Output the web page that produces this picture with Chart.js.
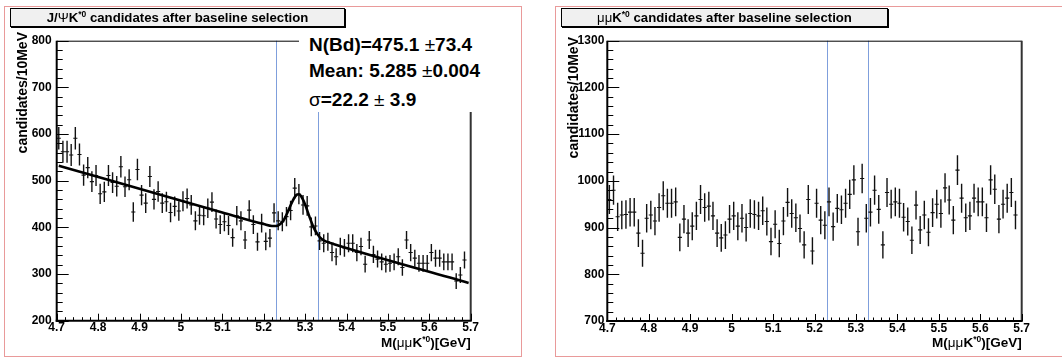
<!DOCTYPE html>
<html><head><meta charset="utf-8">
<script src="https://cdn.jsdelivr.net/npm/chart.js@4.4.1/dist/chart.umd.min.js"></script>
<style>
html,body{margin:0;padding:0;background:#fff;}
body{width:1062px;height:358px;position:relative;overflow:hidden;font-family:'Liberation Sans',Arial,Helvetica,sans-serif;color:#000;}
canvas{position:absolute;left:0;top:0;z-index:1;}
.pad{position:absolute;box-sizing:border-box;border:1px solid #e99a9a;z-index:0;}
.tbox{position:absolute;box-sizing:border-box;height:19px;background:#f0f0f0;border:1px solid #000;box-shadow:1px 1px 0 #000;font-weight:bold;font-size:13.2px;line-height:17px;text-align:center;white-space:nowrap;z-index:3;}
.sup{font-size:8.5px;position:relative;top:-5px;}
.n{font-weight:normal;}
.stats{position:absolute;background:#fff;z-index:3;}
.stats div{position:absolute;left:10px;font-weight:bold;font-size:19px;white-space:nowrap;line-height:20px;}
.ytitle{position:absolute;width:200px;text-align:right;transform-origin:0 0;transform:rotate(-90deg);font-weight:bold;font-size:14px;line-height:16px;white-space:nowrap;z-index:3;}
.xtitle{position:absolute;width:200px;text-align:right;font-weight:bold;font-size:13.5px;line-height:16px;white-space:nowrap;z-index:3;}
</style></head>
<body>
<div class="pad" style="left:4px;top:6px;width:518px;height:351px;"></div>
<div class="pad" style="left:555px;top:6px;width:520px;height:351px;"></div>
<canvas id="cJpsi" width="1062" height="358"></canvas>
<canvas id="cMumu" width="1062" height="358"></canvas>
<div class="tbox" style="left:10px;top:8px;width:335px;">J/<span class="n">&Psi;</span>K<span class="sup">*0</span> candidates after baseline selection</div>
<div class="tbox" style="left:561px;top:8px;width:327px;"><span class="n">&mu;&mu;</span>K<span class="sup">*0</span> candidates after baseline selection</div>
<div class="stats" style="left:299px;top:29px;width:221px;height:83px;">
  <div style="top:6px;">N(Bd)=475.1 <span class="n">&plusmn;</span>73.4</div>
  <div style="top:32px;">Mean: 5.285 <span class="n">&plusmn;</span>0.004</div>
  <div style="top:61px;"><span class="n">&sigma;</span>=22.2 <span class="n">&plusmn;</span> 3.9</div>
</div>
<div class="ytitle" style="left:14px;top:232px;">candidates/10MeV</div>
<div class="ytitle" style="left:564.5px;top:237px;">candidates/10MeV</div>
<div class="xtitle" style="left:270.7px;top:335px;">M(<span class="n">&mu;&mu;</span>K<span class="sup">*0</span>)[GeV]</div>
<div class="xtitle" style="left:821.7px;top:335px;">M(<span class="n">&mu;&mu;</span>K<span class="sup">*0</span>)[GeV]</div>
<script>
// ---- data ----
const xLow = 4.7;
const binWidth = 0.01;
const xTickValues = [4.7, 4.8, 4.9, 5.0, 5.1, 5.2, 5.3, 5.4, 5.5, 5.6, 5.7];
const xTickLabels = ['4.7', '4.8', '4.9', '5', '5.1', '5.2', '5.3', '5.4', '5.5', '5.6', '5.7'];
const jpsiYTicks = [200, 300, 400, 500, 600, 700, 800];
const jpsiYLabels = ['200', '300', '400', '500', '600', '700', '800'];
const mumuYTicks = [700, 800, 900, 1000, 1100, 1200, 1300];
const mumuYLabels = ['700', '800', '900', '1000', '1100', '1200', '1300'];
const windowEdges = [5.23, 5.33];

// J/psi K*0 candidates per 10 MeV bin (bins from 4.70 GeV)
const jpsiCounts = [
  591, 562, 562, 555, 591, 556, 512, 528, 498, 511,
  472, 476, 511, 496, 488, 530, 487, 502, 433, 524,
  469, 452, 509, 460, 477, 452, 455, 432, 445, 435,
  456, 462, 448, 414, 426, 425, 441, 454, 418, 406,
  412, 404, 378, 425, 414, 373, 437, 406, 369, 409,
  370, 377, 431, 414, 412, 423, 436, 484, 471, 448,
  446, 401, 403, 371, 366, 369, 346, 337, 359, 356,
  366, 366, 346, 359, 321, 373, 342, 332, 326, 321,
  323, 326, 337, 314, 373, 346, 334, 323, 323, 323,
  346, 334, 334, 326, 326, 326, 285, 298, 330, null
];
// mu mu K*0 candidates per 10 MeV bin
const mumuCounts = [
  960, 980, 923, 927, 928, 933, 933, 888, 845, 920,
  927, 914, 943, 968, 952, 952, 955, 879, 918, 888,
  903, 925, 960, 943, 946, 925, 888, 878, 884, 918,
  925, 903, 920, 900, 930, 928, 925, 936, 913, 870,
  907, 866, 914, 954, 930, 921, 898, 863, 960, 850,
  952, 916, 905, 955, 902, 941, 938, 952, 971, 1002,
  891, 1005, 920, 933, 980, 939, 863, 975, 950, 955,
  952, 922, 913, 873, 948, 895, 927, 890, 932, 950,
  930, 985, 959, 916, 1023, 963, 921, 925, 963, 955,
  955, 921, 1002, 982, 918, 950, 963, 975, 927, null
];
// fit curve (linear background + Gaussian)
const fitMass = [4.705, 5.10, 5.20, 5.22, 5.23, 5.24, 5.25, 5.26, 5.27, 5.28, 5.285, 5.29, 5.30, 5.31, 5.32, 5.33, 5.34, 5.35, 5.37, 5.695];
const fitCounts = [532, 432, 407, 403, 403, 407, 418, 437, 457, 470, 471, 467, 449, 424, 401, 385, 375, 370, 364, 281];

// ---- helpers ----
const FONT = "'Liberation Sans', Arial, Helvetica, sans-serif";
function binPoints(counts) {
  const pts = [];
  counts.forEach((c, i) => { if (c !== null) pts.push({x: xLow + (i + 0.5) * binWidth, y: c}); });
  return pts;
}

const rootFrame = {
  id: 'rootFrame',
  beforeDatasetsDraw(chart) {
    const {ctx, chartArea: a, scales: {x}} = chart;
    ctx.save();
    ctx.strokeStyle = '#7f9fdc';
    ctx.lineWidth = 1;
    windowEdges.forEach(m => {
      const px = Math.round(x.getPixelForValue(m)) + 0.5;
      ctx.beginPath(); ctx.moveTo(px, a.top); ctx.lineTo(px, a.bottom); ctx.stroke();
    });
    ctx.restore();
  },
  afterDatasetDraw(chart, args) {
    if (args.index !== 0) return;
    const {ctx, chartArea: a, scales: {x, y}} = chart;
    const pts = chart.data.datasets[0].data;
    ctx.save();
    ctx.beginPath(); ctx.rect(a.left, a.top, a.right - a.left, a.bottom - a.top); ctx.clip();
    ctx.strokeStyle = '#111';
    pts.forEach(p => {
      const e = Math.sqrt(p.y); // Poisson error of each bin
      const px = x.getPixelForValue(p.x), py = y.getPixelForValue(p.y);
      ctx.lineWidth = 1.4;
      ctx.beginPath(); ctx.moveTo(px, y.getPixelForValue(p.y + e)); ctx.lineTo(px, y.getPixelForValue(p.y - e)); ctx.stroke();
      ctx.lineWidth = 1.1;
      ctx.beginPath(); ctx.moveTo(x.getPixelForValue(p.x - binWidth / 2), py); ctx.lineTo(x.getPixelForValue(p.x + binWidth / 2), py); ctx.stroke();
    });
    ctx.restore();
  },
  afterDraw(chart) {
    const {ctx, chartArea: a, scales: {x, y}} = chart;
    ctx.save();
    ctx.strokeStyle = '#000'; ctx.lineWidth = 1;
    ctx.beginPath(); ctx.moveTo(a.left, a.top + 0.5); ctx.lineTo(a.right, a.top + 0.5); ctx.stroke();
    ctx.strokeStyle = '#333'; ctx.lineWidth = 2;
    ctx.beginPath(); ctx.moveTo(a.right, a.top); ctx.lineTo(a.right, a.bottom); ctx.stroke();
    ctx.strokeStyle = '#000'; ctx.lineWidth = 2;
    ctx.beginPath(); ctx.moveTo(a.left, a.top); ctx.lineTo(a.left, a.bottom + 1); ctx.stroke();
    ctx.beginPath(); ctx.moveTo(a.left - 1, a.bottom); ctx.lineTo(a.right + 1, a.bottom); ctx.stroke();
    ctx.lineWidth = 1;
    const yt = y.ticks.map(t => t.value);
    for (let i = 0; i < yt.length; i++) {
      const py = Math.round(y.getPixelForValue(yt[i])) + 0.5;
      ctx.beginPath(); ctx.moveTo(a.left, py); ctx.lineTo(a.left + 12, py); ctx.stroke();
      if (i < yt.length - 1) {
        const step = (yt[i + 1] - yt[i]) / 5;
        for (let k = 1; k < 5; k++) {
          const my = Math.round(y.getPixelForValue(yt[i] + k * step)) + 0.5;
          ctx.beginPath(); ctx.moveTo(a.left, my); ctx.lineTo(a.left + 6, my); ctx.stroke();
        }
      }
    }
    const xt = x.ticks.map(t => t.value);
    for (let i = 0; i < xt.length; i++) {
      const px = Math.round(x.getPixelForValue(xt[i])) + 0.5;
      ctx.beginPath(); ctx.moveTo(px, a.bottom); ctx.lineTo(px, a.bottom - 7); ctx.stroke();
      if (i < xt.length - 1) {
        const step = (xt[i + 1] - xt[i]) / 5;
        for (let k = 1; k < 5; k++) {
          const mx = Math.round(x.getPixelForValue(xt[i] + k * step)) + 0.5;
          ctx.beginPath(); ctx.moveTo(mx, a.bottom); ctx.lineTo(mx, a.bottom - 3.5); ctx.stroke();
        }
      }
    }
    ctx.restore();
  }
};

function makeChart(id, counts, yTicks, yLabels, area, withFit) {
  const datasets = [{
    label: 'data', data: binPoints(counts), pointRadius: 0, showLine: false, order: 1
  }];
  if (withFit) {
    datasets.push({
      type: 'line', label: 'fit',
      data: fitMass.map((m, i) => ({x: m, y: fitCounts[i]})),
      borderColor: '#000', borderWidth: 2.6, pointRadius: 0, fill: false,
      cubicInterpolationMode: 'monotone', order: 0
    });
  }
  const tickFont = {family: FONT, size: 12, weight: 'bold'};
  return new Chart(document.getElementById(id), {
    type: 'scatter',
    data: {datasets},
    options: {
      responsive: false, animation: false, devicePixelRatio: 1,
      layout: {padding: {left: area.padLeft, right: 1062 - area.right, top: area.top, bottom: 0}},
      plugins: {legend: {display: false}, tooltip: {enabled: false}, title: {display: false}},
      scales: {
        x: {
          type: 'linear', min: 4.7, max: 5.7,
          afterBuildTicks: s => { s.ticks = xTickValues.map(v => ({value: v})); },
          ticks: {callback: (v, i) => xTickLabels[i], font: tickFont, color: '#000', padding: 0, maxRotation: 0, autoSkip: false},
          grid: {display: false, drawTicks: false}, border: {display: false},
          afterFit: s => { s.height = 358 - area.bottom; }
        },
        y: {
          type: 'linear', min: yTicks[0], max: yTicks[yTicks.length - 1],
          afterBuildTicks: s => { s.ticks = yTicks.map(v => ({value: v})); },
          ticks: {callback: (v, i) => yLabels[i], font: tickFont, color: '#000', padding: area.yPad, autoSkip: false},
          grid: {display: false, drawTicks: false}, border: {display: false},
          afterFit: s => { s.width = area.left - area.padLeft; }
        }
      }
    },
    plugins: [rootFrame]
  });
}

makeChart('cJpsi', jpsiCounts, jpsiYTicks, jpsiYLabels,
  {padLeft: 0, left: 56.7, right: 470.7, top: 40.7, bottom: 320.7, yPad: 5}, true);
makeChart('cMumu', mumuCounts, mumuYTicks, mumuYLabels,
  {padLeft: 540, left: 607.3, right: 1021.7, top: 40.7, bottom: 321, yPad: 3}, false);
</script>
</body></html>
